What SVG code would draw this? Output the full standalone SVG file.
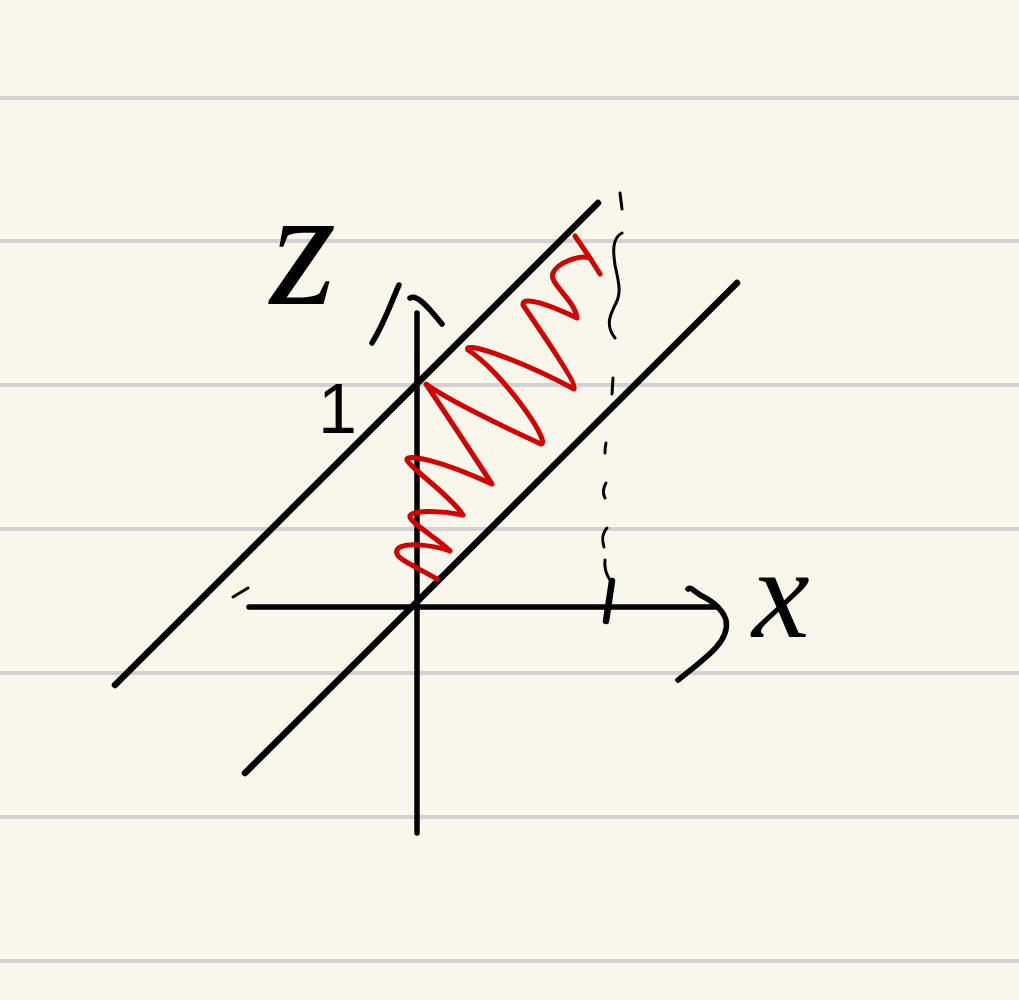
<svg xmlns="http://www.w3.org/2000/svg" width="1019" height="1000" viewBox="0 0 1019 1000">
<style>
.rule{stroke:#d2d2d2;stroke-width:4}
.ink{fill:none;stroke:#000;stroke-linecap:round;stroke-linejoin:round}
.thick{stroke-width:6.5}
.mid{stroke-width:5.5}
.thin{stroke-width:3}
.red{fill:none;stroke:#d40000;stroke-width:5;stroke-linecap:round;stroke-linejoin:round}
.lbl{font-family:"Liberation Serif","DejaVu Serif",serif;font-style:italic;fill:#000}
</style>
<rect width="1019" height="1000" fill="#f9f7eb"/>
<g id="paper">
<line class="rule" x1="0" y1="98" x2="1019" y2="98"/>
<line class="rule" x1="0" y1="241" x2="1019" y2="241"/>
<line class="rule" x1="0" y1="385" x2="1019" y2="385"/>
<line class="rule" x1="0" y1="529" x2="1019" y2="529"/>
<line class="rule" x1="0" y1="673" x2="1019" y2="673"/>
<line class="rule" x1="0" y1="817" x2="1019" y2="817"/>
<line class="rule" x1="0" y1="961" x2="1019" y2="961"/>
</g>
<g id="connectors">
<line class="ink thick" x1="115" y1="685" x2="598" y2="203"/>
<line class="ink thick" x1="245" y1="773" x2="737" y2="283"/>
<line class="ink mid" x1="417" y1="313" x2="417" y2="833"/>
<line class="ink mid" x1="249" y1="607" x2="717" y2="607"/>
<path class="ink mid" d="M688,589 C690,586 695,592 702,596 C712,601 722,608 726,620 C730,640 710,655 678,680"/>
<path class="ink mid" d="M372,343 C385,322 392,300 399,285"/>
<path class="ink mid" d="M410,298 C416,294 426,304 442,324"/>
<line class="ink thin" x1="233" y1="597" x2="248" y2="588"/>
<path class="ink thin" d="M620,193 L622,209"/>
<path class="ink thin" d="M622,233 C612,238 613,252 615,265 C618,280 622,292 616,303 C610,315 605,325 615,338"/>
<path class="ink thin" d="M613,378 L612,394"/>
<path class="ink thin" d="M606,443 C605,447 605,450 605,453"/>
<path class="ink thin" d="M606,483 C603,488 603,494 605,498"/>
<path class="ink thin" d="M607,528 C602,533 602,541 604,547"/>
<path class="ink thin" d="M605,560 C604,568 606,574 610,580"/>
<path class="ink thick" d="M612,581 L606,621"/>
</g>
<g id="wave">
<path class="red" d="M437,579 C415,566 393,558 397,550 C401,542 430,544 450,551 C440,540 412,524 410,517 C408,510 440,510 463,515 C450,495 410,468 407,460 C405,453 440,460 492,484 C470,450 440,405 426,384 C445,398 500,425 541,444 C552,442 500,370 468,350 C462,340 520,360 574,389 C578,385 540,330 523,305 C522,295 550,305 577,318 C575,300 548,283 553,273 C557,263 580,254 590,258 L600,274"/>
<path class="red" d="M575,236 L590,258"/>
</g>
<g id="label-z"><text class="lbl" x="270" y="304" font-size="170">z</text></g>
<g id="label-x"><text class="lbl" x="752" y="637" font-size="130">x</text></g>
<g id="label-one"><text x="318" y="433" font-family="Liberation Sans, Arial, sans-serif" font-size="70" fill="#000">1</text></g>
</svg>
